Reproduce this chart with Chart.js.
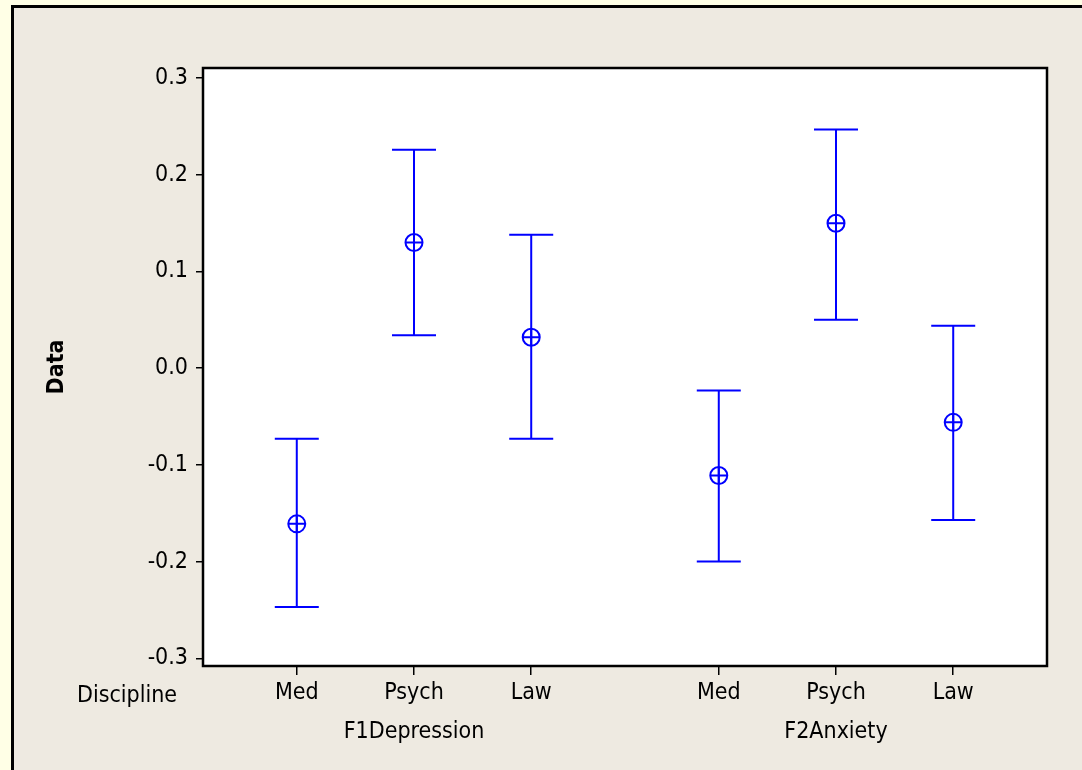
<!DOCTYPE html>
<html>
<head>
<meta charset="utf-8">
<script src="https://cdn.jsdelivr.net/npm/chart.js@4.4.1/dist/chart.umd.min.js"></script>
<style>
    body { margin: 0; background: #FFFFE6; overflow: hidden; }
    #frame {
        position: absolute; left: 11px; top: 5px; width: 1100px; height: 800px;
        border: 3px solid #000; background: #EEEAE1;
    }
    #wrap { position: absolute; left: 0; top: 0; width: 1082px; height: 770px; }
</style>
</head>
<body>
<div id="frame"></div>
<div id="wrap"><canvas id="grafico"></canvas></div>
<script>
// posicoes no eixo x (grupo F1 e grupo F2)
const posicoes = [1, 2, 3, 4.6, 5.6, 6.6];
const disciplinas = ['Med', 'Psych', 'Law', 'Med', 'Psych', 'Law'];
const medias = [-0.161, 0.130, 0.032, -0.111, 0.150, -0.056];
const inferior = [-0.247, 0.034, -0.073, -0.200, 0.050, -0.157];
const superior = [-0.073, 0.226, 0.138, -0.023, 0.247, 0.044];
const grupos = ['F1Depression', 'F2Anxiety'];
const centrosGrupo = [2, 5.6];
const ticksY = [-0.3, -0.2, -0.1, 0.0, 0.1, 0.2, 0.3];

const fonte = "'DejaVu Sans Condensed', 'DejaVu Sans', sans-serif";
const azul = '#0000FF';

const pontos = posicoes.map((x, i) => ({ x: x, y: medias[i] }));

const barrasErro = {
    id: 'barrasErro',
    beforeDraw(chart) {
        const a = chart.chartArea;
        chart.ctx.save();
        chart.ctx.fillStyle = '#FFFFFF';
        chart.ctx.fillRect(a.left, a.top, a.right - a.left, a.bottom - a.top);
        chart.ctx.restore();
    },
    beforeDatasetsDraw(chart) {
        const ctx = chart.ctx;
        const sx = chart.scales.x, sy = chart.scales.y;
        ctx.save();
        ctx.strokeStyle = azul;
        ctx.lineWidth = 2;
        posicoes.forEach((p, i) => {
            const x = sx.getPixelForValue(p);
            const y1 = sy.getPixelForValue(superior[i]);
            const y2 = sy.getPixelForValue(inferior[i]);
            ctx.beginPath();
            ctx.moveTo(x, y1); ctx.lineTo(x, y2);
            ctx.moveTo(x - 22, y1); ctx.lineTo(x + 22, y1);
            ctx.moveTo(x - 22, y2); ctx.lineTo(x + 22, y2);
            ctx.stroke();
        });
        ctx.restore();
    },
    afterDraw(chart) {
        const ctx = chart.ctx;
        const a = chart.chartArea;
        const sx = chart.scales.x;
        ctx.save();
        ctx.strokeStyle = '#000';
        ctx.lineWidth = 2.5;
        ctx.strokeRect(a.left, a.top, a.right - a.left, a.bottom - a.top);
        ctx.fillStyle = '#000';
        ctx.font = '23px ' + fonte;
        ctx.textBaseline = 'alphabetic';
        ctx.textAlign = 'left';
        ctx.fillText('Discipline', 77, 702);
        ctx.textAlign = 'center';
        grupos.forEach((g, i) => {
            ctx.fillText(g, sx.getPixelForValue(centrosGrupo[i]), 738);
        });
        ctx.restore();
    }
};

const ctx = document.getElementById('grafico').getContext('2d');
const grafico = new Chart(ctx, {
    type: 'scatter',
    data: {
        datasets: [
            {
                data: pontos,
                pointStyle: 'circle',
                pointRadius: 8.5,
                pointBorderWidth: 2,
                borderColor: azul,
                backgroundColor: 'rgba(0,0,0,0)'
            },
            {
                data: pontos,
                pointStyle: 'cross',
                pointRadius: 8.5,
                pointBorderWidth: 2,
                borderColor: azul,
                backgroundColor: azul
            }
        ]
    },
    options: {
        responsive: true,
        maintainAspectRatio: false,
        animation: false,
        layout: { padding: { left: 0, top: 68, right: 35, bottom: 0 } },
        plugins: {
            legend: { display: false },
            tooltip: { enabled: false }
        },
        scales: {
            x: {
                type: 'linear',
                min: 0.2,
                max: 7.4,
                afterBuildTicks: (s) => { s.ticks = posicoes.map(v => ({ value: v })); },
                afterFit: (s) => { s.height = 104; },
                border: { display: false },
                grid: { drawOnChartArea: false, drawTicks: true, tickLength: 9, color: '#000', lineWidth: 1.5 },
                ticks: {
                    color: '#000',
                    font: { family: fonte, size: 23 },
                    padding: 4,
                    maxRotation: 0,
                    autoSkip: false,
                    callback: (v, i) => disciplinas[i]
                }
            },
            y: {
                min: -0.308,
                max: 0.3105,
                afterBuildTicks: (s) => { s.ticks = ticksY.map(v => ({ value: v })); },
                afterFit: (s) => { s.width = 203; },
                border: { display: false },
                grid: { drawOnChartArea: false, drawTicks: true, tickLength: 7, color: '#000', lineWidth: 1.5 },
                ticks: {
                    color: '#000',
                    font: { family: fonte, size: 23 },
                    padding: 8,
                    callback: (v) => v.toFixed(1)
                },
                title: {
                    display: true,
                    text: 'Data',
                    color: '#000',
                    font: { family: fonte, size: 23, weight: 'bold' },
                    padding: { top: 43, bottom: 0 }
                }
            }
        }
    },
    plugins: [barrasErro]
});
</script>
</body>
</html>
